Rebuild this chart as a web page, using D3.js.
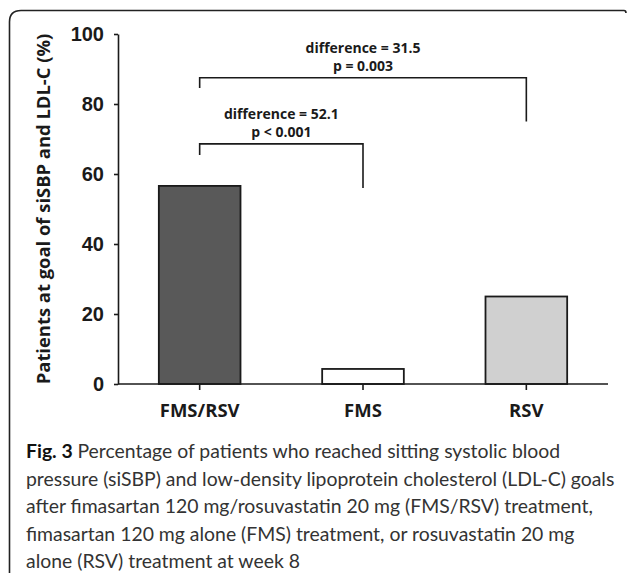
<!DOCTYPE html>
<html>
<head>
<meta charset="utf-8">
<script src="https://cdn.jsdelivr.net/npm/d3@7"></script>
<style>
    body { margin: 0; background: #fff; }
    svg { display: block; }
</style>
</head>
<body>
<div id="chart"></div>
<script>
// chart values
var groups = ["FMS/RSV", "FMS", "RSV"];
var pctAtGoal = [56.6, 4.3, 25.0];
var yTicks = [0, 20, 40, 60, 80, 100];

// significance brackets: from group, to group, bar height, end heights (data units)
var bracketFrom = ["FMS/RSV", "FMS/RSV"];
var bracketTo = ["FMS", "RSV"];
var bracketLevel = [68.6, 87.5];
var bracketLeftEnd = [65.4, 84.6];
var bracketRightEnd = [56.0, 75.0];
var bracketDiff = ["difference = 52.1", "difference = 31.5"];
var bracketP = ["p < 0.001", "p = 0.003"];

var captionLines = [
    "Percentage of patients who reached sitting systolic blood",
    "pressure (siSBP) and low-density lipoprotein cholesterol (LDL-C) goals",
    "after fimasartan 120 mg/rosuvastatin 20 mg (FMS/RSV) treatment,",
    "fimasartan 120 mg alone (FMS) treatment, or rosuvastatin 20 mg",
    "alone (RSV) treatment at week 8"
];

var barFill = ["#595959", "#ffffff", "#d0d0d0"];

var W = 627, H = 573;
var svg = d3.select("#chart")
    .append("svg")
    .attr("width", W)
    .attr("height", H);

// frame around the figure (open at the bottom)
svg.append("path")
    .attr("d", "M9.5,573 L9.5,22 Q9.5,10.5 21,10.5 L624,10.5 Q626,10.5 626,13")
    .attr("fill", "none")
    .attr("stroke", "#222")
    .attr("stroke-width", 1.6)

var x = d3.scaleBand()
    .domain(groups)
    .range([118, 608])
    .paddingInner(0.5)
    .paddingOuter(0.25);

var y = d3.scaleLinear()
    .domain([0, 100])
    .range([384, 34]);

// bars
svg.append("g")
    .selectAll("rect")
    .data(groups)
    .enter()
    .append("rect")
    .attr("x", function (d) { return x(d) })
    .attr("y", function (d, i) { return y(pctAtGoal[i]) })
    .attr("width", x.bandwidth())
    .attr("height", function (d, i) { return y(0) - y(pctAtGoal[i]) })
    .attr("fill", function (d, i) { return barFill[i] })
    .attr("stroke", "#1a1a1a")
    .attr("stroke-width", 1.8)

// Y axis
var yAxis = svg.append("g")
    .attr("transform", "translate(118,0)")
    .call(d3.axisLeft(y).tickValues(yTicks).tickSize(4).tickPadding(10).tickSizeOuter(0));
yAxis.select(".domain").attr("stroke", "#1a1a1a").attr("stroke-width", 1.6);
yAxis.selectAll(".tick line").attr("stroke", "#1a1a1a").attr("stroke-width", 1.6);
yAxis.selectAll(".tick text")
    .style("font-family", "'Liberation Sans', Arial, sans-serif")
    .style("font-weight", "bold")
    .style("font-size", "20px")
    .attr("fill", "#1a1a1a")

// X axis
var xAxis = svg.append("g")
    .attr("transform", "translate(0,384)")
    .call(d3.axisBottom(x).tickSize(6).tickPadding(14).tickSizeOuter(0));
xAxis.select(".domain").attr("stroke", "#1a1a1a").attr("stroke-width", 1.6)
    .attr("d", "M118,0H608");
xAxis.selectAll(".tick line").attr("stroke", "#1a1a1a").attr("stroke-width", 1.6);
xAxis.selectAll(".tick text")
    .style("font-family", "'Open Sans', sans-serif")
    .style("font-weight", "bold")
    .style("font-size", "18.5px")
    .attr("fill", "#1a1a1a")

// y label
svg.append("text")
    .text("Patients at goal of siSBP and LDL-C (%)")
    .attr("transform", "translate(44," + ((34 + 384) / 2) + ") rotate(-90)")
    .attr("text-anchor", "middle")
    .attr("dy", "0.35em")
    .style("font-family", "'Open Sans', sans-serif")
    .style("font-weight", "bold")
    .style("font-size", "18.4px")
    .style("fill", "#1a1a1a")

// brackets
for (var i = 0; i < bracketFrom.length; i++) {
    var x1 = x(bracketFrom[i]) + x.bandwidth() / 2;
    var x2 = x(bracketTo[i]) + x.bandwidth() / 2;
    svg.append("path")
        .attr("d", "M" + x1 + "," + y(bracketLeftEnd[i]) +
            "V" + y(bracketLevel[i]) + "H" + x2 + "V" + y(bracketRightEnd[i]))
        .attr("fill", "none")
        .attr("stroke", "#1a1a1a")
        .attr("stroke-width", 1.6)
    var cx = (x1 + x2) / 2;
    svg.append("text")
        .text(bracketDiff[i])
        .attr("x", cx)
        .attr("y", y(bracketLevel[i]) - 25)
        .attr("text-anchor", "middle")
        .style("font-family", "'Open Sans', sans-serif")
        .style("font-weight", "bold")
        .style("font-size", "14px")
        .style("fill", "#1a1a1a")
    svg.append("text")
        .text(bracketP[i])
        .attr("x", cx)
        .attr("y", y(bracketLevel[i]) - 6.5)
        .attr("text-anchor", "middle")
        .style("font-family", "'Open Sans', sans-serif")
        .style("font-weight", "bold")
        .style("font-size", "14px")
        .style("fill", "#1a1a1a")
}

// caption
var cap = svg.append("g")
    .style("font-family", "Lato, 'Open Sans', sans-serif")
    .style("font-size", "19.4px")
    .style("fill", "#333")
captionLines.forEach(function (line, i) {
    var t = cap.append("text")
        .attr("x", 26)
        .attr("y", 458 + i * 27.5)
    if (i == 0) {
        t.append("tspan").text("Fig. 3 ").style("font-weight", "bold").style("fill", "#111")
    }
    t.append("tspan").text(line)
})
</script>
</body>
</html>
